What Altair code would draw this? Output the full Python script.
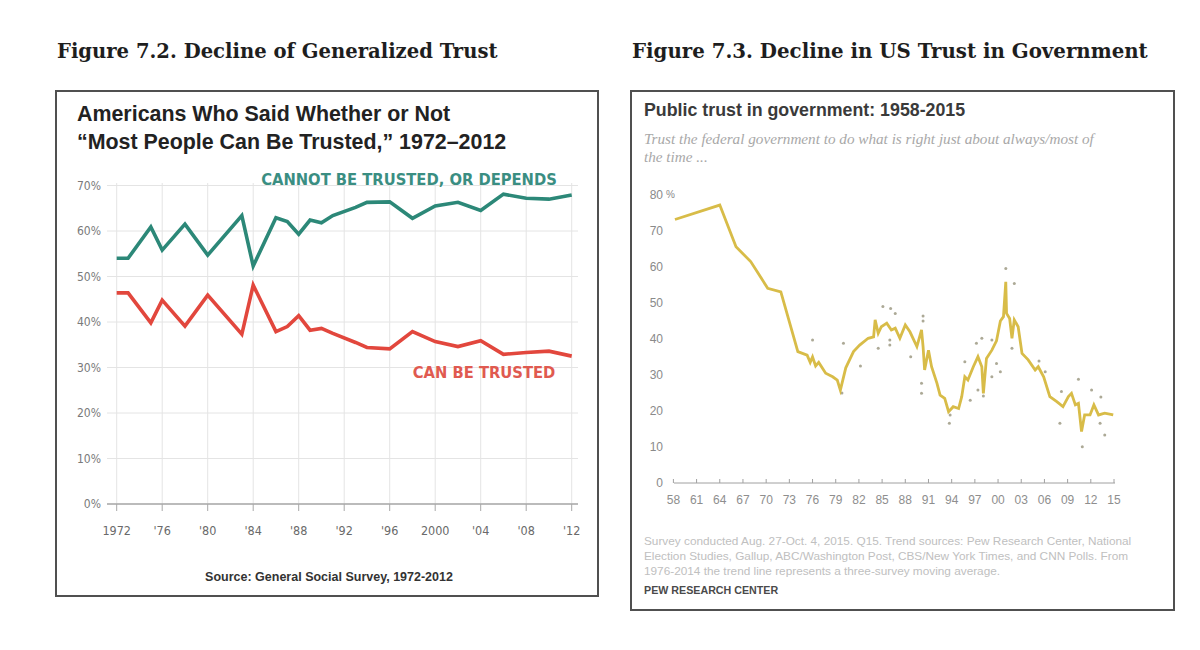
import altair as alt
import pandas as pd

# ---------------- Figure 7.2: General Social Survey ----------------
gss_years = [1972, 1973, 1975, 1976, 1978, 1980, 1983, 1984, 1986, 1987, 1988,
             1989, 1990, 1991, 1993, 1994, 1996, 1998, 2000, 2002, 2004, 2006,
             2008, 2010, 2012]
cannot_trust = [54.0, 54.0, 60.9, 55.8, 61.5, 54.7, 63.4, 52.3, 62.9, 62.1, 59.3,
                62.4, 61.8, 63.4, 65.2, 66.3, 66.4, 62.8, 65.5, 66.3, 64.5, 68.1,
                67.2, 67.0, 67.9]
can_trust = [46.4, 46.4, 39.8, 44.8, 39.1, 45.9, 37.3, 48.1, 37.9, 39.0, 41.4,
             38.2, 38.6, 37.5, 35.5, 34.4, 34.1, 37.9, 35.7, 34.6, 35.9, 32.9,
             33.3, 33.6, 32.5]
gss_y_ticks = [0, 10, 20, 30, 40, 50, 60, 70]
gss_x_ticks = [1972, 1976, 1980, 1984, 1988, 1992, 1996, 2000, 2004, 2008, 2012]
gss_x_labels = ["1972", "'76", "'80", "'84", "'88", "'92", "'96", "2000", "'04", "'08", "'12"]

# ---------------- Figure 7.3: Pew trust in government ----------------
trend_years = [1958.2, 1964.0, 1966.1, 1968.0, 1970.2, 1971.9, 1974.1, 1975.3, 1975.7,
               1976.0, 1976.4, 1976.8, 1977.7, 1978.6, 1979.2, 1979.6, 1980.3, 1981.3,
               1982.1, 1983.2, 1983.9, 1984.1, 1984.5, 1984.9, 1985.6, 1986.2, 1986.7,
               1987.3, 1988.0, 1988.6, 1989.5, 1990.1, 1990.3, 1990.5, 1991.0, 1991.4,
               1992.1, 1992.5, 1993.1, 1993.6, 1994.2, 1994.9, 1995.3, 1995.7, 1996.1,
               1996.8, 1997.4, 1997.9, 1998.1, 1998.5, 1999.2, 1999.8, 2000.3, 2000.7,
               2001.0, 2001.1, 2001.5, 2001.8, 2002.1, 2002.6, 2003.1, 2003.9, 2004.8,
               2005.2, 2005.9, 2006.7, 2007.6, 2008.4, 2009.1, 2009.5, 2010.0, 2010.4,
               2010.8, 2011.2, 2011.9, 2012.4, 2013.0, 2013.8, 2014.9]
trend_values = [73.2, 77.2, 65.6, 61.5, 54.1, 53.1, 36.5, 35.5, 33.5,
                35.0, 32.5, 33.5, 30.5, 29.5, 28.6, 25.8, 32.0, 36.5,
                38.3, 40.2, 40.6, 45.3, 41.6, 43.4, 44.4, 42.5, 43.0,
                40.2, 43.9, 42.0, 37.9, 42.5, 37.9, 31.4, 36.9, 32.3,
                27.7, 24.4, 23.5, 19.8, 21.2, 20.7, 24.0, 29.5, 28.6,
                32.3, 35.1, 32.3, 24.9, 34.6, 36.9, 39.5, 45.0, 46.2,
                55.9, 47.1, 45.7, 40.2, 45.3, 43.4, 36.0, 34.2, 31.4,
                32.3, 29.5, 24.0, 22.6, 21.2, 24.0, 24.9, 21.7, 22.1,
                14.3, 18.9, 18.9, 21.7, 18.9, 19.4, 18.9]
survey_years = [1976.0, 1980.0, 1982.2, 1979.8, 1984.5, 1985.1, 1986.1, 1986.7, 1986.0,
                1986.0, 1988.7, 1990.3, 1990.3, 1990.1, 1990.1, 1993.7, 1993.8, 1995.7,
                1996.4, 1997.2, 1997.9, 1997.4, 1998.1, 1999.2, 1999.2, 1999.8, 2000.3,
                2001.0, 2002.1, 2001.8, 2005.3, 2006.1, 2008.2, 2008.0, 2010.4, 2010.9,
                2012.1, 2013.3, 2013.2, 2013.8]
survey_values = [39.7, 38.8, 32.5, 25.0, 37.4, 49.0, 48.5, 47.1, 39.7,
                 38.3, 35.1, 46.4, 45.0, 27.7, 24.9, 16.6, 18.9, 33.7,
                 23.0, 38.8, 40.2, 25.8, 24.2, 39.7, 29.5, 33.2, 30.9,
                 59.6, 55.4, 37.4, 33.9, 30.9, 25.4, 16.6, 28.8, 10.1,
                 25.8, 23.9, 16.6, 13.3]
pew_y_ticks = [0, 10, 20, 30, 40, 50, 60, 70, 80]
pew_x_ticks = list(range(1958, 2016, 3))
pew_x_labels = ["58", "61", "64", "67", "70", "73", "76", "79", "82", "85", "88",
                "91", "94", "97", "00", "03", "06", "09", "12", "15"]

# ---------------- tables ----------------
gss = pd.DataFrame({
    "year": gss_years * 2,
    "share": cannot_trust + can_trust,
    "answer": ["Cannot be trusted"] * len(gss_years) + ["Can be trusted"] * len(gss_years),
})
gss_yt = pd.DataFrame({"v": gss_y_ticks, "label": [f"{v}%" for v in gss_y_ticks]})
gss_xt = pd.DataFrame({"year": gss_x_ticks, "label": gss_x_labels})
trend = pd.DataFrame({"year": trend_years, "pct": trend_values})
surveys = pd.DataFrame({"year": survey_years, "pct": survey_values})
pew_yt = pd.DataFrame({"v": pew_y_ticks, "label": [str(v) for v in pew_y_ticks]})
pew_xt = pd.DataFrame({"year": pew_x_ticks, "label": pew_x_labels})
ONE = pd.DataFrame({"k": [0]})

# Both panels share one canvas; each panel's scales map into its own pixel box.
LX = alt.Scale(domain=[1972, 2012], range=[116.7, 571.7], nice=False, zero=False)
LY = alt.Scale(domain=[0, 70], range=[504, 185.5], nice=False, zero=False)
RX = alt.Scale(domain=[1958, 2015], range=[673.4, 1114], nice=False, zero=False)
RY = alt.Scale(domain=[0, 80], range=[483, 195], nice=False, zero=False)

SANS = "Liberation Sans, Arial, sans-serif"
NARROW = "Liberation Sans Narrow, DejaVu Sans Condensed, Arial Narrow, Liberation Sans, sans-serif"
SERIF = "Liberation Serif, Times New Roman, serif"
HEAD = "DejaVu Serif, Georgia, serif"


def label(text, x, y, align="left", **style):
    return alt.Chart(ONE).mark_text(text=text, align=align, baseline="middle", **style).encode(
        x=alt.value(x), y=alt.value(y))


def box(x0, y0, x1, y1):
    return alt.Chart(ONE).mark_rect(fillOpacity=0, stroke="#505050", strokeWidth=2).encode(
        x=alt.value(x0), x2=alt.value(x1), y=alt.value(y0), y2=alt.value(y1))


layers = []

# headings above the boxes
layers += [
    label("Figure 7.2. Decline of Generalized Trust", 57, 52, font=HEAD, fontSize=19.6,
          fontWeight="bold", color="#1e1e1e"),
    label("Figure 7.3. Decline in US Trust in Government", 632, 52, font=HEAD, fontSize=19.8,
          fontWeight="bold", color="#1e1e1e"),
    box(56, 91, 598, 596),
    box(631, 91, 1174, 610),
]

# ---- left panel ----
layers += [
    label("Americans Who Said Whether or Not", 77, 115, font=SANS, fontSize=21.4,
          fontWeight="bold", color="#222"),
    label("\u201cMost People Can Be Trusted,\u201d 1972\u20132012", 77, 143, font=SANS,
          fontSize=21.4, fontWeight="bold", color="#222"),
    # horizontal grid
    alt.Chart(gss_yt).mark_rule(color="#e4e4e4", strokeWidth=1).encode(
        y=alt.Y("v:Q", scale=LY, axis=None), x=alt.value(107), x2=alt.value(578)),
    # vertical grid
    alt.Chart(gss_xt).mark_rule(color="#e4e4e4", strokeWidth=1).encode(
        x=alt.X("year:Q", scale=LX, axis=None), y=alt.value(183), y2=alt.value(504)),
    # baseline and ticks
    alt.Chart(gss_yt[gss_yt.v == 0]).mark_rule(color="#a8a8a8", strokeWidth=1.5).encode(
        y=alt.Y("v:Q", scale=LY, axis=None), x=alt.value(107), x2=alt.value(578)),
    alt.Chart(gss_xt).mark_rule(color="#a8a8a8", strokeWidth=1).encode(
        x=alt.X("year:Q", scale=LX, axis=None), y=alt.value(504), y2=alt.value(511)),
    alt.Chart(gss_yt).mark_text(align="right", baseline="middle", font=NARROW, fontSize=12,
                                color="#7a7a7a").encode(
        y=alt.Y("v:Q", scale=LY, axis=None), x=alt.value(101), text="label:N"),
    alt.Chart(gss_xt).mark_text(align="center", baseline="middle", font=NARROW, fontSize=12.5,
                                color="#6a6a6a").encode(
        x=alt.X("year:Q", scale=LX, axis=None), y=alt.value(531), text="label:N"),
    alt.Chart(gss).mark_line(strokeWidth=3.6, strokeJoin="miter").encode(
        x=alt.X("year:Q", scale=LX, axis=None),
        y=alt.Y("share:Q", scale=LY, axis=None),
        color=alt.Color("answer:N", scale=alt.Scale(domain=["Cannot be trusted", "Can be trusted"],
                                                    range=["#2c8878", "#e2473d"]), legend=None),
        detail="answer:N"),
    label("CANNOT BE TRUSTED, OR DEPENDS", 409, 180, align="center", font=NARROW, fontSize=16.4,
          fontWeight="bold", color="#3a8e82"),
    label("CAN BE TRUSTED", 484, 373, align="center", font=NARROW, fontSize=16.4,
          fontWeight="bold", color="#e05a50"),
    label("Source: General Social Survey, 1972-2012", 329, 577, align="center", font=SANS,
          fontSize=12.5, fontWeight="bold", color="#333"),
]

# ---- right panel ----
layers += [
    label("Public trust in government:  1958-2015", 644, 111, font=SANS, fontSize=17.8,
          fontWeight="bold", color="#3a3a3a"),
    label("Trust the federal government to do what is right just about always/most of", 644, 139,
          font=SERIF, fontSize=15.2, fontStyle="italic", color="#a8a8a8"),
    label("the time ...", 644, 157, font=SERIF, fontSize=15.2, fontStyle="italic", color="#a8a8a8"),
    alt.Chart(pew_yt).mark_text(align="right", baseline="middle", font=SANS, fontSize=12,
                                color="#8a8a8a").encode(
        y=alt.Y("v:Q", scale=RY, axis=None), x=alt.value(663), text="label:N"),
    label("%", 666, 195, font=SANS, fontSize=10, color="#8a8a8a"),
    alt.Chart(ONE).mark_rule(color="#a0a0a0", strokeWidth=1).encode(
        x=alt.value(674), x2=alt.value(1115), y=alt.value(483)),
    alt.Chart(pew_xt).mark_rule(color="#a0a0a0", strokeWidth=1).encode(
        x=alt.X("year:Q", scale=RX, axis=None), y=alt.value(479), y2=alt.value(483)),
    alt.Chart(pew_xt).mark_text(align="center", baseline="middle", font=SANS, fontSize=12,
                                color="#8e8e8e").encode(
        x=alt.X("year:Q", scale=RX, axis=None), y=alt.value(500), text="label:N"),
    alt.Chart(surveys).mark_circle(size=9, color="#9d9a84", opacity=0.85).encode(
        x=alt.X("year:Q", scale=RX, axis=None), y=alt.Y("pct:Q", scale=RY, axis=None)),
    alt.Chart(trend).mark_line(strokeWidth=2.8, color="#d8bc48").encode(
        x=alt.X("year:Q", scale=RX, axis=None), y=alt.Y("pct:Q", scale=RY, axis=None)),
    label("Survey conducted Aug. 27-Oct. 4, 2015. Q15. Trend sources: Pew Research Center, National",
          644, 541, font=SANS, fontSize=11.8, color="#c0c0c0"),
    label("Election Studies, Gallup, ABC/Washington Post, CBS/New York Times, and CNN Polls. From",
          644, 556, font=SANS, fontSize=11.8, color="#c0c0c0"),
    label("1976-2014 the trend line represents a three-survey moving average.",
          644, 571, font=SANS, fontSize=11.8, color="#c0c0c0"),
    label("PEW RESEARCH CENTER", 644, 591, font=SANS, fontSize=10.7, fontWeight="bold",
          color="#4a4a4a"),
]

chart = alt.layer(*layers).resolve_scale(
    x="independent", y="independent", color="independent"
).properties(
    width=1200, height=650, padding=0, autosize=alt.AutoSizeParams(type="none"),
    background="white",
).configure_view(stroke=None)

chart.save("out.html", embed_options={"renderer": "svg", "actions": False})
